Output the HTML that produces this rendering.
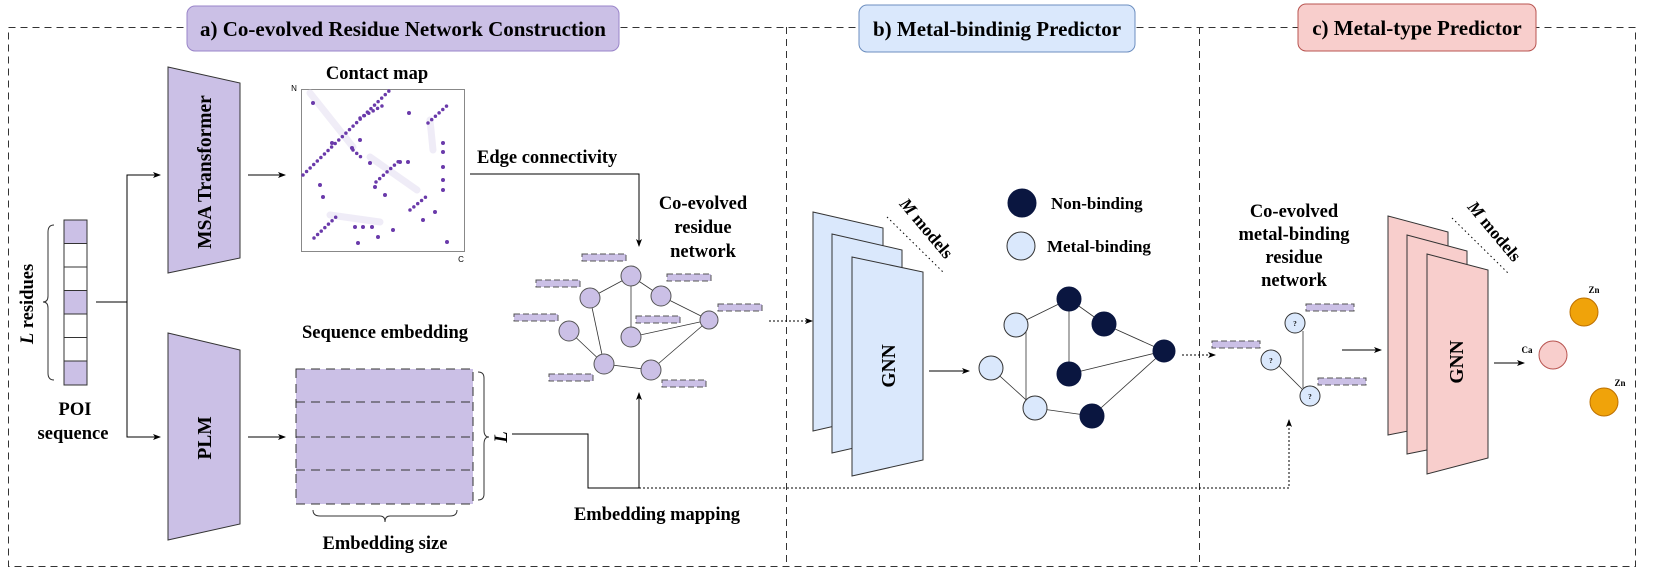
<!DOCTYPE html>
<html><head><meta charset="utf-8"><style>
html,body{margin:0;padding:0;background:#fff;}
svg{display:block;font-family:"Liberation Serif",serif;font-weight:bold;}
</style></head><body>
<svg width="1661" height="568" viewBox="0 0 1661 568" xmlns="http://www.w3.org/2000/svg">
<defs>
<marker id="ar" markerWidth="8" markerHeight="8" refX="7" refY="4" orient="auto" markerUnits="userSpaceOnUse"><path d="M0,1 L8,4 L0,7 L2,4 Z" fill="#000"/></marker>
</defs>
<g fill="none" stroke="#333" stroke-width="1" stroke-dasharray="7,5">
<rect x="8.5" y="27.5" width="1627" height="539"/>
<line x1="786.5" y1="27" x2="786.5" y2="567"/>
<line x1="1199.5" y1="27" x2="1199.5" y2="567"/>
</g>
<rect x="187" y="6" width="432" height="45" rx="8" fill="#cbc0e6" stroke="#9a85c9"/>
<text x="403" y="36" font-size="21" text-anchor="middle">a) Co-evolved Residue Network Construction</text>
<rect x="859" y="5" width="276" height="47" rx="8" fill="#dae8fc" stroke="#6c8ebf"/>
<text x="997" y="36" font-size="21" text-anchor="middle">b) Metal-bindinig Predictor</text>
<rect x="1298" y="4" width="238" height="47" rx="8" fill="#f8cecc" stroke="#b85450"/>
<text x="1417" y="35" font-size="21" text-anchor="middle">c) Metal-type Predictor</text>

<g stroke="#333" stroke-width="1">
<rect x="64" y="220" width="23" height="23.5" fill="#cbc0e6"/>
<rect x="64" y="243.5" width="23" height="23.5" fill="#fff"/>
<rect x="64" y="267" width="23" height="23.5" fill="#fff"/>
<rect x="64" y="290.5" width="23" height="23.5" fill="#cbc0e6"/>
<rect x="64" y="314" width="23" height="23.5" fill="#fff"/>
<rect x="64" y="337.5" width="23" height="23.5" fill="#fff"/>
<rect x="64" y="361" width="23" height="24" fill="#cbc0e6"/>
</g>
<path d="M54,225 Q48,225 48,232 L48,296 Q48,302 43,302 Q48,302 48,308 L48,373 Q48,380 54,380" fill="none" stroke="#333"/>
<text transform="translate(33,304) rotate(-90)" font-size="18.5" text-anchor="middle"><tspan font-style="italic">L</tspan> residues</text>
<text x="75" y="415" font-size="18.5" text-anchor="middle">POI</text>
<text x="73" y="439" font-size="18.5" text-anchor="middle">sequence</text>
<g fill="none" stroke="#000" stroke-width="1">
<path d="M96,302 H127"/>
<path d="M160,175 H127 V437 H160" marker-end="url(#ar)"/>
<path d="M127,175 H160" marker-end="url(#ar)"/>
<path d="M248,175 H285" marker-end="url(#ar)"/>
<path d="M248,437 H285" marker-end="url(#ar)"/>
</g>
<polygon points="168,67 240,83 240,258 168,273" fill="#cbc0e6" stroke="#333"/>
<text transform="translate(211,172) rotate(-90)" font-size="19.5" text-anchor="middle">MSA Transformer</text>
<polygon points="168,333 240,350 240,524 168,540" fill="#cbc0e6" stroke="#333"/>
<text transform="translate(211,438) rotate(-90)" font-size="19.5" text-anchor="middle">PLM</text>

<text x="377" y="79" font-size="18.5" text-anchor="middle">Contact map</text>
<text x="294" y="91" font-size="8" font-family="Liberation Sans" font-weight="normal" text-anchor="middle">N</text>
<text x="461" y="262" font-size="8" font-family="Liberation Sans" font-weight="normal" text-anchor="middle">C</text>
<rect x="301.5" y="89.5" width="163" height="162" fill="#fff" stroke="#888"/>
<g stroke="#e6e1f2" stroke-width="7" stroke-linecap="round" opacity="0.6" fill="none">
<path d="M310,93 L353,147"/><path d="M370,157 L417,190"/><path d="M330,215 L380,222"/><path d="M430,120 L433,150"/>
</g>
<g stroke="#6a3aaa" stroke-width="3.5" stroke-linecap="round" stroke-dasharray="0 5" fill="none">
<path d="M303,175 L390,90"/><path d="M360,118 L382,106"/><path d="M428,123 L450,103"/><path d="M376,182 L400,160"/><path d="M410,210 L427,196"/><path d="M314,238 L337,216"/><path d="M353,150 L362,158"/>
</g>
<g fill="#6a3aaa">
<circle cx="323" cy="197" r="2"/><circle cx="370" cy="163" r="2"/><circle cx="400" cy="162" r="2"/><circle cx="408" cy="162" r="2"/><circle cx="443" cy="143" r="2"/><circle cx="443" cy="152" r="2"/><circle cx="443" cy="167" r="2"/><circle cx="443" cy="180" r="2"/><circle cx="375" cy="187" r="2"/><circle cx="443" cy="190" r="2"/><circle cx="393" cy="230" r="2"/><circle cx="378" cy="237" r="2"/><circle cx="358" cy="243" r="2"/><circle cx="355" cy="227" r="2"/><circle cx="363" cy="227" r="2"/><circle cx="423" cy="220" r="2"/><circle cx="435" cy="212" r="2"/><circle cx="313" cy="103" r="2"/><circle cx="409" cy="113" r="2"/><circle cx="360" cy="140" r="2"/><circle cx="352" cy="148" r="2"/><circle cx="332" cy="143" r="2"/><circle cx="447" cy="242" r="2"/><circle cx="372" cy="227" r="2"/><circle cx="385" cy="195" r="2"/><circle cx="320" cy="185" r="2"/>
</g>
<text x="477" y="163" font-size="18.5">Edge connectivity</text>
<path d="M470,174 H639 V246" fill="none" stroke="#000" marker-end="url(#ar)"/>

<text x="385" y="338" font-size="18.5" text-anchor="middle">Sequence embedding</text>
<rect x="296" y="369" width="177" height="135" fill="#cbc0e6"/>
<g stroke="#333" stroke-dasharray="9,6" fill="none">
<rect x="296" y="369" width="177" height="135"/>
<line x1="296" y1="402" x2="473" y2="402"/><line x1="296" y1="437" x2="473" y2="437"/><line x1="296" y1="470" x2="473" y2="470"/>
</g>
<path d="M478,372 Q484,372 484,378 L484,430 Q484,437 489,437 Q484,437 484,444 L484,494 Q484,500 478,500" fill="none" stroke="#333"/>
<text transform="translate(507,437) rotate(-90)" font-size="18.5" font-style="italic" text-anchor="middle">L</text>
<path d="M313,510 Q313,516 320,516 L380,516 Q385,516 385,522 Q385,516 390,516 L450,516 Q457,516 457,510" fill="none" stroke="#333"/>
<text x="385" y="549" font-size="18.5" text-anchor="middle">Embedding size</text>

<path d="M512,434 H588 V488 H639 V393" fill="none" stroke="#000" marker-end="url(#ar)"/>
<path d="M639,488 H1289 V420" fill="none" stroke="#000" stroke-dasharray="2,2" marker-end="url(#ar)"/>
<text x="657" y="520" font-size="18.5" text-anchor="middle">Embedding mapping</text>

<text font-size="18.5" text-anchor="middle"><tspan x="703" y="209">Co-evolved</tspan><tspan x="703" y="233">residue</tspan><tspan x="703" y="257">network</tspan></text>
<g stroke="#333" stroke-width="0.8">
<line x1="631" y1="276" x2="590" y2="298"/><line x1="631" y1="276" x2="661" y2="296"/><line x1="631" y1="276" x2="631" y2="337"/><line x1="590" y1="298" x2="604" y2="364"/><line x1="661" y1="296" x2="709" y2="320"/><line x1="631" y1="337" x2="709" y2="320"/><line x1="709" y1="320" x2="651" y2="370"/><line x1="569" y1="331" x2="604" y2="364"/><line x1="604" y1="364" x2="651" y2="370"/>
</g>
<g fill="#cbc0e6" stroke="#555">
<circle cx="631" cy="276" r="10"/><circle cx="590" cy="298" r="10"/><circle cx="661" cy="296" r="10"/><circle cx="709" cy="320" r="9"/><circle cx="569" cy="331" r="10"/><circle cx="631" cy="337" r="10"/><circle cx="604" cy="364" r="10"/><circle cx="651" cy="370" r="10"/>
</g>
<g fill="#cbc0e6" stroke="#555" stroke-dasharray="6,3">
<rect x="582" y="254" width="44" height="7"/><rect x="536" y="280" width="44" height="7"/><rect x="667" y="274" width="44" height="7"/><rect x="514" y="314" width="44" height="7"/><rect x="636" y="316" width="44" height="7"/><rect x="718" y="304" width="44" height="7"/><rect x="549" y="374" width="44" height="7"/><rect x="662" y="380" width="44" height="7"/>
</g>
<path d="M769,321 H812" fill="none" stroke="#000" stroke-dasharray="2,2" marker-end="url(#ar)"/>

<g fill="#dae8fc" stroke="#333">
<polygon points="813,212 883,228 883,415 813,431"/>
<polygon points="832,234 902,250 902,437 832,453"/>
<polygon points="852,257 923,272 923,460 852,476"/>
</g>
<text transform="translate(895,366) rotate(-90)" font-size="19.5" text-anchor="middle">GNN</text>
<line x1="887" y1="217" x2="943" y2="272" stroke="#000" stroke-dasharray="1.5,3"/>
<text transform="translate(922,232) rotate(50)" font-size="17.5" text-anchor="middle"><tspan font-style="italic">M</tspan> models</text>
<path d="M929,371 H969" stroke="#000" marker-end="url(#ar)"/>
<circle cx="1022" cy="203" r="14" fill="#0a1640" stroke="#0a1640"/>
<circle cx="1021" cy="246" r="14" fill="#dae8fc" stroke="#333"/>
<text x="1051" y="209" font-size="17">Non-binding</text>
<text x="1047" y="252" font-size="17">Metal-binding</text>
<g stroke="#333" stroke-width="0.8">
<line x1="1016" y1="325" x2="1069" y2="299"/><line x1="1069" y1="299" x2="1104" y2="324"/><line x1="1069" y1="299" x2="1069" y2="374"/><line x1="1104" y1="324" x2="1164" y2="351"/><line x1="1069" y1="374" x2="1164" y2="351"/><line x1="1164" y1="351" x2="1092" y2="416"/><line x1="1092" y1="416" x2="1035" y2="408"/><line x1="1035" y1="408" x2="991" y2="368"/><line x1="1026" y1="330" x2="1026" y2="402"/>
</g>
<g fill="#dae8fc" stroke="#333"><circle cx="1016" cy="325" r="12"/><circle cx="991" cy="368" r="12"/><circle cx="1035" cy="408" r="12"/></g>
<g fill="#0a1640" stroke="#0a1640"><circle cx="1069" cy="299" r="12"/><circle cx="1104" cy="324" r="12"/><circle cx="1164" cy="351" r="11"/><circle cx="1069" cy="374" r="12"/><circle cx="1092" cy="416" r="12"/></g>
<path d="M1182,355 H1215" stroke="#000" stroke-dasharray="2,2" marker-end="url(#ar)"/>

<text font-size="18.5" text-anchor="middle"><tspan x="1294" y="217">Co-evolved</tspan><tspan x="1294" y="240">metal-binding</tspan><tspan x="1294" y="263">residue</tspan><tspan x="1294" y="286">network</tspan></text>
<g fill="#cbc0e6" stroke="#555" stroke-dasharray="6,3">
<rect x="1306" y="304" width="48" height="7"/><rect x="1212" y="341" width="48" height="7"/><rect x="1318" y="378" width="48" height="7"/>
</g>
<g stroke="#333" stroke-width="0.8"><line x1="1303" y1="331" x2="1303" y2="388"/><line x1="1279" y1="366" x2="1303" y2="390"/></g>
<g fill="#dae8fc" stroke="#333">
<circle cx="1295" cy="323" r="10"/><circle cx="1271" cy="360" r="10"/><circle cx="1310" cy="396" r="10"/>
</g>
<g font-size="7" text-anchor="middle"><text x="1295" y="326">?</text><text x="1271" y="363">?</text><text x="1310" y="399">?</text></g>
<path d="M1342,350 H1381" stroke="#000" marker-end="url(#ar)"/>
<g fill="#f8cecc" stroke="#333">
<polygon points="1388,216 1448,232 1448,423 1388,435"/>
<polygon points="1407,235 1467,251 1467,442 1407,454"/>
<polygon points="1427,254 1488,270 1488,458 1427,474"/>
</g>
<text transform="translate(1463,362) rotate(-90)" font-size="19.5" text-anchor="middle">GNN</text>
<line x1="1452" y1="218" x2="1509" y2="274" stroke="#000" stroke-dasharray="1.5,3"/>
<text transform="translate(1490,235) rotate(50)" font-size="17.5" text-anchor="middle"><tspan font-style="italic">M</tspan> models</text>
<path d="M1494,363 H1524" stroke="#000" marker-end="url(#ar)"/>
<text x="1527" y="353" font-size="9" text-anchor="middle">Ca</text>
<circle cx="1553" cy="355" r="14" fill="#f8cecc" stroke="#b85450"/>
<text x="1594" y="293" font-size="9" text-anchor="middle">Zn</text>
<circle cx="1584" cy="312" r="14" fill="#f0a30a" stroke="#bd7000"/>
<text x="1620" y="386" font-size="9" text-anchor="middle">Zn</text>
<circle cx="1604" cy="402" r="14" fill="#f0a30a" stroke="#bd7000"/>
</svg>
</body></html>
